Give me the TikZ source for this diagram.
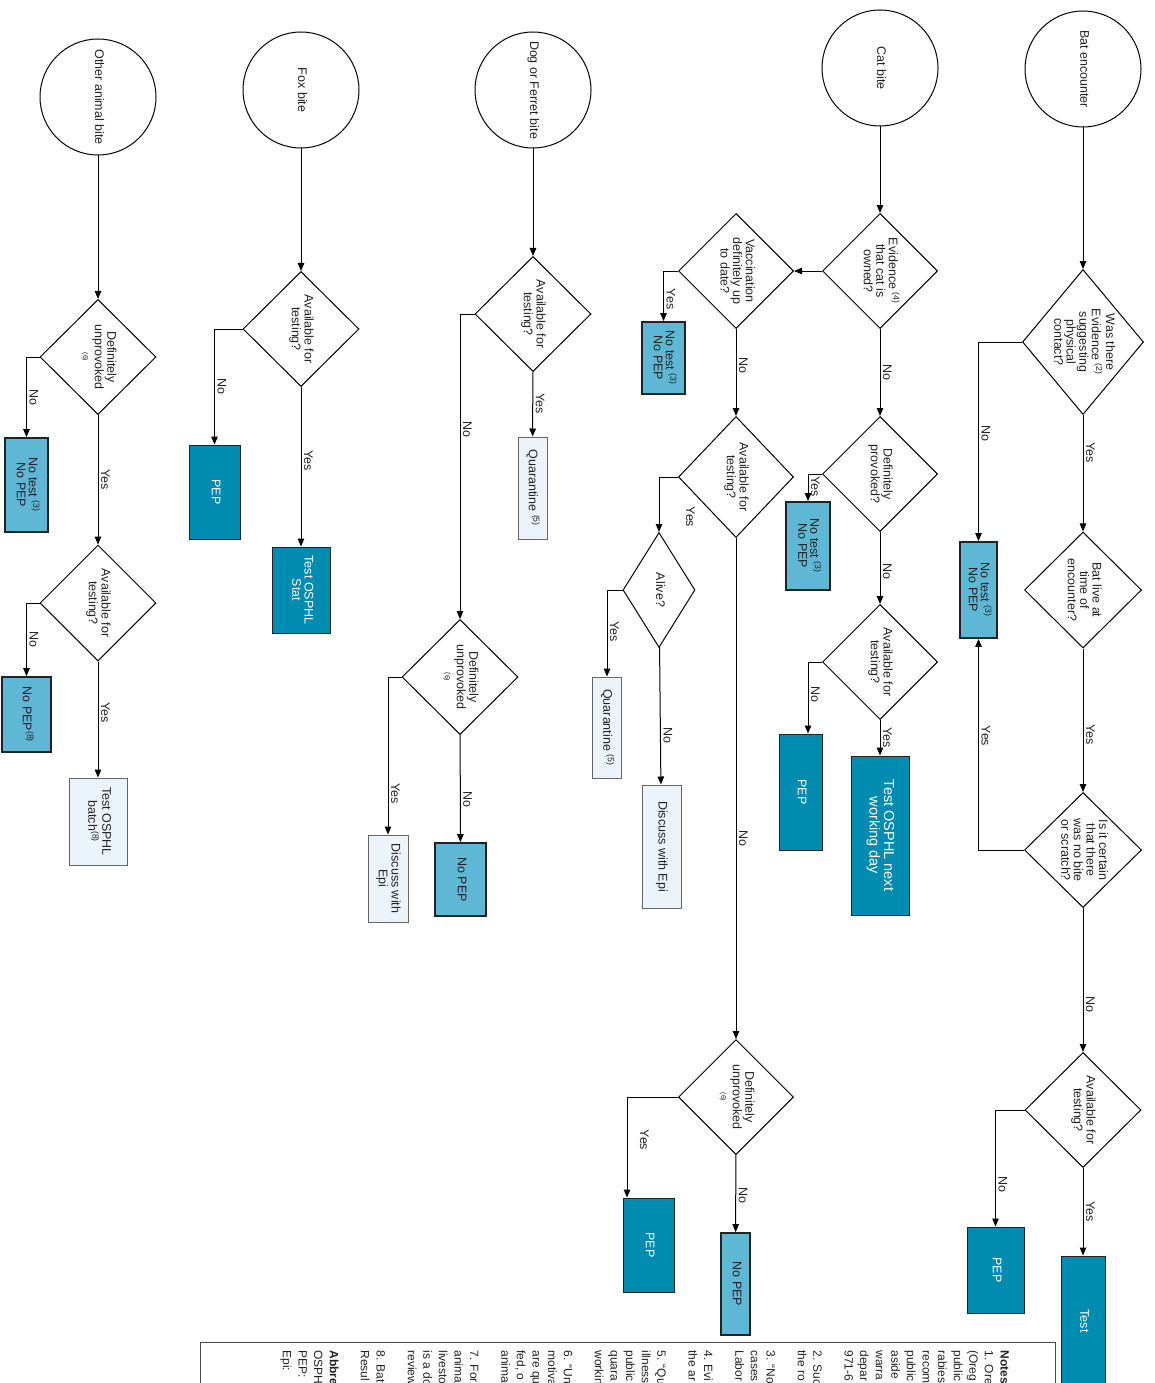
\documentclass[tikz,border=0pt]{standalone}
\usepackage{fontspec}
\setmainfont{Liberation Sans}
\usepackage{graphicx}
\usetikzlibrary{arrows.meta,shapes.geometric}
\newcommand{\rt}[1]{\rotatebox{-90}{\begin{tabular}{@{}c@{}}#1\end{tabular}}}
\newcommand{\nt}[1]{\textsuperscript{(#1)}}
\definecolor{pepdark}{HTML}{008BB0}
\definecolor{pepmid}{HTML}{5EB7D4}
\definecolor{peplight}{HTML}{EBF4FB}
\definecolor{ink}{HTML}{222222}

\begin{document}
\begin{tikzpicture}[x=1pt,y=-1pt,>={Triangle[length=8pt,width=6.5pt]},line width=1pt,
  every node/.style={font=\fontsize{12.5}{11.7}\selectfont,text=ink},
  start/.style={draw,circle,minimum size=116pt,inner sep=0pt},
  dia/.style={draw,diamond,inner sep=-30pt},
  dk/.style={draw=ink,fill=pepdark,text=white,inner sep=0pt},
  md/.style={draw=ink,line width=1.8pt,fill=pepmid,inner sep=0pt},
  lt/.style={draw=black!60,fill=peplight,inner sep=0pt},
  lbl/.style={rotate=-90,anchor=south,inner sep=2.5pt}]
\useasboundingbox (0,0) rectangle (1154,1383);
\clip (0,0) rectangle (1154,1383);

% bat encounter
\node[start] (bat) at (1083,69) {\rt{Bat encounter}};
\node[dia,minimum width=121pt,minimum height=145pt] (bq1) at (1083,342) {\rt{Was there\\Evidence \nt{2}\\suggesting\\physical\\contact?}};
\node[dia,minimum width=117pt,minimum height=116pt] (bq2) at (1083,590) {\rt{Bat live at\\time of\\encounter?}};
\node[dia,minimum width=117pt,minimum height=115pt] (bq3) at (1083,850) {\rt{Is it certain\\that there\\was no bite\\or scratch?}};
\node[dia,minimum width=116pt,minimum height=115pt] (bq4) at (1083,1110) {\rt{Available for\\testing?}};
\node[md,minimum width=37pt,minimum height=96pt] (bn1) at (978.5,590) {\rt{No test \nt{3}\\No PEP}};
\node[dk,minimum width=57pt,minimum height=86pt] (bp) at (995.5,1270) {\rt{PEP}};
\node[dk,minimum width=44pt,minimum height=130pt] (bt) at (1083,1321) {\rt{Test}};

% cat bite
\node[start] (cat) at (880,68) {\rt{Cat bite}};
\node[dia,minimum width=115pt,minimum height=115pt] (cq1) at (880,271) {\rt{Evidence \nt{4}\\that cat is\\owned?}};
\node[dia,minimum width=115pt,minimum height=115pt] (cq2) at (880,474) {\rt{Definitely\\provoked?}};
\node[dia,minimum width=115pt,minimum height=115pt] (cq3) at (880,662) {\rt{Available for\\testing?}};
\node[md,minimum width=44pt,minimum height=88pt] (cn1) at (808,546) {\rt{No test \nt{3}\\No PEP}};
\node[dk,minimum width=43pt,minimum height=116pt] (cp) at (800.5,792) {\rt{PEP}};
\node[dk,minimum width=58pt,minimum height=159pt,font=\fontsize{14.5}{13}\selectfont] (ct) at (880,835.5) {\rt{Test OSPHL next\\working day}};

% owned cat
\node[dia,minimum width=115pt,minimum height=115pt] (vq1) at (736,271) {\rt{Vaccination\\definitely up\\to date?}};
\node[dia,minimum width=115pt,minimum height=121pt] (vq2) at (736,477) {\rt{Available for\\testing?}};
\node[dia,minimum width=72pt,minimum height=115pt] (aq) at (659,590) {\rt{Alive?}};
\node[dia,minimum width=115pt,minimum height=115pt] (dq) at (736,1097) {\rt{Definitely\\unprovoked\\{\fontsize{7}{7}\selectfont(6)}}};
\node[md,minimum width=43pt,minimum height=72pt] (vn1) at (663.5,358) {\rt{No test \nt{3}\\No PEP}};
\node[lt,minimum width=29pt,minimum height=101pt] (aqq) at (607,727.5) {\rt{Quarantine \nt{5}}};
\node[lt,minimum width=39pt,minimum height=123pt] (ad) at (661.5,846.5) {\rt{Discuss with Epi}};
\node[dk,minimum width=51pt,minimum height=94pt] (dp) at (648.5,1245) {\rt{PEP}};
\node[md,minimum width=29pt,minimum height=102pt] (dn) at (735.5,1284) {\rt{No PEP}};

% dog or ferret bite
\node[start] (dog) at (533,90) {\rt{Dog or Ferret bite}};
\node[dia,minimum width=116pt,minimum height=115pt] (gq1) at (533,314) {\rt{Available for\\testing?}};
\node[dia,minimum width=116pt,minimum height=115pt] (gq2) at (460,677) {\rt{Definitely\\unprovoked\\{\fontsize{7}{7}\selectfont(6)}}};
\node[lt,minimum width=29pt,minimum height=102pt] (gqq) at (532.5,488) {\rt{Quarantine \nt{5}}};
\node[lt,minimum width=40pt,minimum height=87pt] (gd) at (388,878.5) {\rt{Discuss with\\Epi}};
\node[md,minimum width=51pt,minimum height=73pt] (gn) at (460.5,879.5) {\rt{No PEP}};

% fox bite
\node[start] (fox) at (301,90) {\rt{Fox bite}};
\node[dia,minimum width=116pt,minimum height=115pt] (fq) at (301,329) {\rt{Available for\\testing?}};
\node[dk,minimum width=51pt,minimum height=94pt] (fp) at (214.5,492) {\rt{PEP}};
\node[dk,minimum width=58pt,minimum height=86pt] (ft) at (301,590) {\rt{Test OSPHL\\Stat}};

% other animal bite
\node[start] (oth) at (98,97) {\rt{Other animal bite}};
\node[dia,minimum width=116pt,minimum height=115pt] (oq1) at (98,357) {\rt{Definitely\\unprovoked\\{\fontsize{7}{7}\selectfont(6)}}};
\node[dia,minimum width=116pt,minimum height=116pt] (oq2) at (98,603) {\rt{Available for\\testing?}};
\node[md,minimum width=43pt,minimum height=94pt] (on1) at (26.5,485) {\rt{No test \nt{3}\\No PEP}};
\node[md,minimum width=49pt,minimum height=75pt] (on2) at (26.5,714.5) {\rt{No PEP\nt{8}}};
\node[lt,minimum width=58pt,minimum height=87pt] (ot) at (98,821.5) {\rt{Test OSPHL\\batch\nt{8}}};

% connectors
\draw[->] (bat) -- (bq1);
\draw[->] (bq1.west) -| node[lbl,pos=.73] (l1) {No} (bn1.north);
\draw[->] (bq1) -- node[lbl,pos=.32] (l2) {Yes} (bq2);
\draw[->] (bq2) -- node[lbl,pos=.6] (l3) {Yes} (bq3);
\draw[->] (bq3.west) -| node[lbl,pos=.77] (l4) {Yes} (bn1.south);
\draw[->] (bq3) -- node[lbl,pos=.67] (l5) {No} (bq4);
\draw[->] (bq4.west) -| node[lbl,pos=.82] (l6) {No} (bp.north);
\draw[->] (bq4) -- node[lbl,pos=.5] (l7) {Yes} (bt);

\draw[->] (cat) -- (cq1);
\draw[->] (cq1) -- (vq1);
\draw[->] (cq1) -- node[lbl,pos=.5] (c1) {No} (cq2);
\draw[->] (cq2.west) -| node[lbl,pos=.73] (c2) {Yes} (cn1.north);
\draw[->] (cq2) -- node[lbl,pos=.55] (c3) {No} (cq3);
\draw[->] (cq3.west) -| node[lbl,pos=.73] (c4) {No} ([xshift=7.5pt]cp.north);
\draw[->] (cq3) -- node[lbl,pos=.5] (c5) {Yes} (ct);

\draw[->] (vq1.west) -| node[lbl,pos=.78] (v1) {Yes} (vn1.north);
\draw[->] (vq1) -- node[lbl,pos=.42] (v2) {No} (vq2);
\draw[->] (vq2.west) -| (aq.north);
\node[lbl] (v3) at (683,517) {Yes};
\draw[->] (vq2) -- node[lbl,pos=.6] (v4) {No} (dq);
\draw[->] (aq.west) -| node[lbl,pos=.74] (v5) {Yes} (aqq.north);
\draw[->] (aq) -- node[lbl,pos=.64] (v6) {No} (ad);
\draw[->] (dq.west) -| ([xshift=-21.5pt]dp.north);
\node[lbl] (v7) at (637,1140) {Yes};
\draw[->] (dq) -- node[lbl,pos=.52] (v8) {No} (dn);

\draw[->] (dog) -- (gq1);
\draw[->] (gq1.west) -| node[lbl,pos=.69] (g1) {No} (gq2.north);
\draw[->] (gq1) -- node[lbl,pos=.49] (g2) {Yes} (gqq);
\draw[->] (gq2.west) -| node[lbl,pos=.87] (g3) {Yes} (gd.north);
\draw[->] (gq2) -- node[lbl,pos=.6] (g4) {No} (gn);

\draw[->] (fox) -- (fq);
\draw[->] (fq.west) -| node[lbl,pos=.75] (f1) {No} (fp.north);
\draw[->] (fq) -- node[lbl,pos=.46] (f2) {Yes} (ft);

\draw[->] (oth) -- (oq1);
\draw[->] (oq1.west) -| node[lbl,pos=.75] (o1) {No} (on1.north);
\draw[->] (oq1) -- node[lbl,pos=.5] (o2) {Yes} (oq2);
\draw[->] (oq2.west) -| node[lbl,pos=.75] (o3) {No} (on2.north);
\draw[->] (oq2) -- node[lbl,pos=.44] (o4) {Yes} (ot);

% notes panel
\draw[draw=black!70] (200,1342) rectangle (1055,1400);
\node[anchor=north east,inner sep=0pt,font=\fontsize{12}{15.6}\selectfont] (notes) at (1012,1350)
  {\rotatebox{-90}{\begin{tabular}{@{}l@{}}
  \textbf{Notes}\\ 1. Ore\\ (Oreg\\ public\\ rabies\\ recom\\ public\\ aside\\ warra\\ depar\\ 971-6\\ \\
  2. Suc\\ the ro\\ \\
  3. ``No\\ cases\\ Labor\\ \\
  4. Evi\\ the ar\\ \\
  5. ``Qu\\ illness\\ public\\ quara\\ workin\\ \\
  6. ``Un\\ motiva\\ are qu\\ fed, o\\ anima\\ \\
  7. For\\ anima\\ livesto\\ is a do\\ review\\ \\
  8. Bat\\ Resul\\ \\
  \textbf{Abbre}\\ OSPH\\ PEP:\\ Epi:
  \end{tabular}}};
\end{tikzpicture}
\end{document}
